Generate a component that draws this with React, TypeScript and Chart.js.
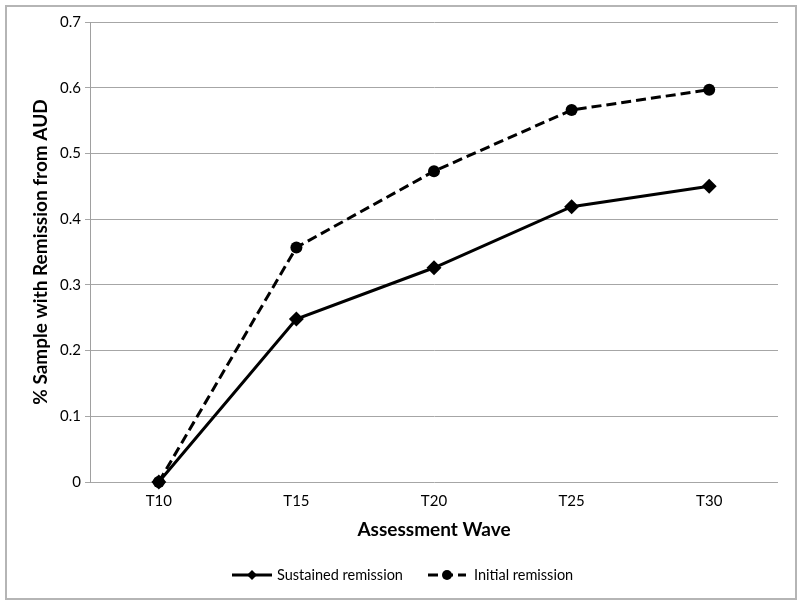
import React, { useEffect, useRef } from "react";
import { Chart, registerables } from "chart.js";

Chart.register(...registerables);

const categories = ["T10", "T15", "T20", "T25", "T30"];
const sustained = [0, 0.248, 0.326, 0.419, 0.45];
const initial = [0, 0.357, 0.473, 0.566, 0.597];
const yTicks = [0, 0.1, 0.2, 0.3, 0.4, 0.5, 0.6, 0.7];

const FONT = "Lato, 'Open Sans', sans-serif";

const legendPlugin = {
  id: "customLegend",
  afterDraw(chart: any) {
    const ctx = chart.ctx;
    const y = 575;
    const items = [
      { x: 232, len: 40, textX: 277 },
      { x: 428, len: 38, textX: 474 },
    ];
    chart.data.datasets.forEach((ds: any, i: number) => {
      const it = items[i];
      ctx.save();
      ctx.strokeStyle = ds.borderColor;
      ctx.lineWidth = ds.borderWidth;
      ctx.setLineDash(ds.borderDash || []);
      ctx.beginPath();
      ctx.moveTo(it.x, y);
      ctx.lineTo(it.x + it.len, y);
      ctx.stroke();
      ctx.setLineDash([]);
      ctx.fillStyle = ds.pointBackgroundColor;
      const cx = it.x + it.len / 2;
      const r = 5;
      ctx.beginPath();
      if (ds.pointStyle === "rectRot") {
        ctx.moveTo(cx - r, y);
        ctx.lineTo(cx, y - r);
        ctx.lineTo(cx + r, y);
        ctx.lineTo(cx, y + r);
        ctx.closePath();
      } else {
        ctx.arc(cx, y, r, 0, Math.PI * 2);
      }
      ctx.fill();
      ctx.fillStyle = "#000";
      ctx.font = `14.5px ${FONT}`;
      ctx.textBaseline = "middle";
      ctx.textAlign = "left";
      ctx.fillText(ds.label, it.textX, y);
      ctx.restore();
    });
  },
};

export default function App() {
  const ref = useRef<HTMLCanvasElement>(null);
  useEffect(() => {
    if (!ref.current) return;
    const chart = new Chart(ref.current, {
      type: "line",
      data: {
        labels: categories,
        datasets: [
          {
            label: "Sustained remission",
            data: sustained,
            borderColor: "#000",
            backgroundColor: "#000",
            pointBackgroundColor: "#000",
            pointBorderColor: "#000",
            borderWidth: 3,
            pointStyle: "rectRot",
            pointRadius: 7.5,
            pointBorderWidth: 0,
            tension: 0,
            clip: false,
          },
          {
            label: "Initial remission",
            data: initial,
            borderColor: "#000",
            backgroundColor: "#000",
            pointBackgroundColor: "#000",
            pointBorderColor: "#000",
            borderWidth: 3,
            borderDash: [10, 5],
            pointStyle: "circle",
            pointRadius: 6,
            pointBorderWidth: 0,
            tension: 0,
            clip: false,
          },
        ],
      },
      plugins: [legendPlugin],
      options: {
        animation: false,
        responsive: false,
        maintainAspectRatio: false,
        layout: { padding: { left: 25, right: 22, top: 22, bottom: 59 } },
        plugins: {
          legend: { display: false },
          tooltip: { enabled: false },
        },
        scales: {
          x: {
            offset: true,
            grid: { display: false },
            border: { display: false },
            ticks: { color: "#000", font: { family: FONT, size: 15 }, padding: 2 },
            title: {
              display: true,
              text: "Assessment Wave",
              color: "#000",
              font: { family: FONT, size: 19, weight: "bold" },
            },
            afterFit(scale: any) {
              scale.height = 63;
            },
          },
          y: {
            min: 0,
            max: 0.7,
            afterBuildTicks(scale: any) {
              scale.ticks = yTicks.map((v) => ({ value: v }));
            },
            grid: { color: "#a6a6a6", lineWidth: 1, tickLength: 5 },
            border: { display: true, color: "#a0a0a0", width: 1 },
            ticks: {
              color: "#000",
              font: { family: FONT, size: 15 },
              padding: 4,
              callback: (v: any) => String(Math.round(Number(v) * 10) / 10),
            },
            title: {
              display: true,
              text: "% Sample with Remission from AUD",
              color: "#000",
              font: { family: FONT, size: 19, weight: "bold" },
            },
            afterFit(scale: any) {
              scale.width = 65;
            },
          },
        },
      },
    } as any);
    return () => chart.destroy();
  }, []);
  return (
    <div style={{ position: "fixed", left: 0, top: 0, width: 800, height: 604, background: "#fff" }}>
      <div
        style={{
          position: "absolute",
          left: 5,
          top: 5,
          width: 788,
          height: 591,
          border: "2px solid #b5b5b5",
        }}
      />
      <canvas ref={ref} width={800} height={604} style={{ position: "absolute", left: 0, top: 0 }} />
    </div>
  );
}
